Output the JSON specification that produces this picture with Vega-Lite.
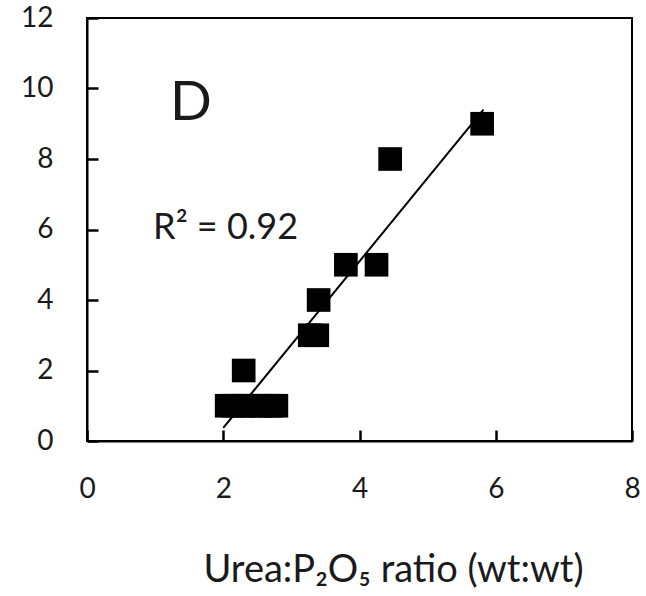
{
  "$schema": "https://vega.github.io/schema/vega-lite/v6.json",
  "width": 545,
  "height": 423,
  "autosize": {"type": "none"},
  "padding": {"left": 87, "top": 18, "right": 14, "bottom": 155},
  "background": "white",
  "config": {
    "view": {"stroke": "black", "strokeWidth": 2},
    "axis": {
      "grid": false,
      "domainColor": "black",
      "domainWidth": 2,
      "ticks": true,
      "tickColor": "black",
      "tickWidth": 2.5,
      "tickSize": -11,
      "labelFont": "Lato",
      "labelFontSize": 28,
      "labelColor": "#1a1a1a",
      "labelFlush": false,
      "labelOverlap": false,
      "labelPadding": 45
    }
  },
  "datasets": {
    "points": [
      {"ratio": 5.8, "value": 9},
      {"ratio": 4.45, "value": 8},
      {"ratio": 3.8, "value": 5},
      {"ratio": 4.25, "value": 5},
      {"ratio": 3.4, "value": 4},
      {"ratio": 3.27, "value": 3},
      {"ratio": 3.38, "value": 3},
      {"ratio": 2.3, "value": 2},
      {"ratio": 2.05, "value": 1},
      {"ratio": 2.15, "value": 1},
      {"ratio": 2.3, "value": 1},
      {"ratio": 2.4, "value": 1},
      {"ratio": 2.55, "value": 1},
      {"ratio": 2.7, "value": 1},
      {"ratio": 2.78, "value": 1}
    ],
    "fit": [
      {"ratio": 2.0, "value": 0.37},
      {"ratio": 5.82, "value": 9.4}
    ],
    "xticks": [{"ratio": 2}, {"ratio": 4}, {"ratio": 6}],
    "yticks": [{"value": 2}, {"value": 4}, {"value": 6}, {"value": 8}, {"value": 10}],
    "labels": [
      {"ratio": 1.22, "value": 9.6, "text": "D", "size": 55},
      {"ratio": 0.97, "value": 6.04, "text": "R² = 0.92", "size": 36}
    ]
  },
  "encoding": {
    "x": {
      "field": "ratio", "type": "quantitative",
      "scale": {"domain": [0, 8], "nice": false},
      "axis": {
        "values": [0, 2, 4, 6, 8],
        "format": "d",
        "title": "Urea:P₂O₅ ratio (wt:wt)",
        "titleFont": "Lato",
        "titleFontSize": 38,
        "titleFontWeight": "normal",
        "titleColor": "#1a1a1a",
        "titleX": 306,
        "titleY": 129,
        "titleAlign": "center",
        "titleBaseline": "middle"
      }
    },
    "y": {
      "field": "value", "type": "quantitative",
      "scale": {"domain": [0, 12], "nice": false},
      "axis": {"values": [0, 2, 4, 6, 8, 10, 12], "format": "d", "title": null}
    }
  },
  "layer": [
    {
      "data": {"name": "yticks"},
      "mark": {"type": "rule", "color": "black", "strokeWidth": 2.5},
      "encoding": {
        "x": {"datum": 0, "type": "quantitative"},
        "x2": {"datum": 0.16}
      }
    },
    {
      "data": {"name": "xticks"},
      "mark": {"type": "rule", "color": "black", "strokeWidth": 2.5},
      "encoding": {
        "y": {"datum": 0, "type": "quantitative"},
        "y2": {"datum": 0.31}
      }
    },
    {
      "data": {"name": "fit"},
      "mark": {"type": "line", "color": "black", "strokeWidth": 2},
      "encoding": {}
    },
    {
      "data": {"name": "points"},
      "mark": {"type": "point", "shape": "square", "filled": true, "color": "black", "opacity": 1, "size": 560},
      "encoding": {}
    },
    {
      "data": {"name": "labels"},
      "mark": {"type": "text", "font": "Lato", "color": "#1a1a1a", "baseline": "middle", "align": "left"},
      "encoding": {
        "text": {"field": "text"},
        "size": {"field": "size", "type": "quantitative", "scale": null}
      }
    }
  ]
}
